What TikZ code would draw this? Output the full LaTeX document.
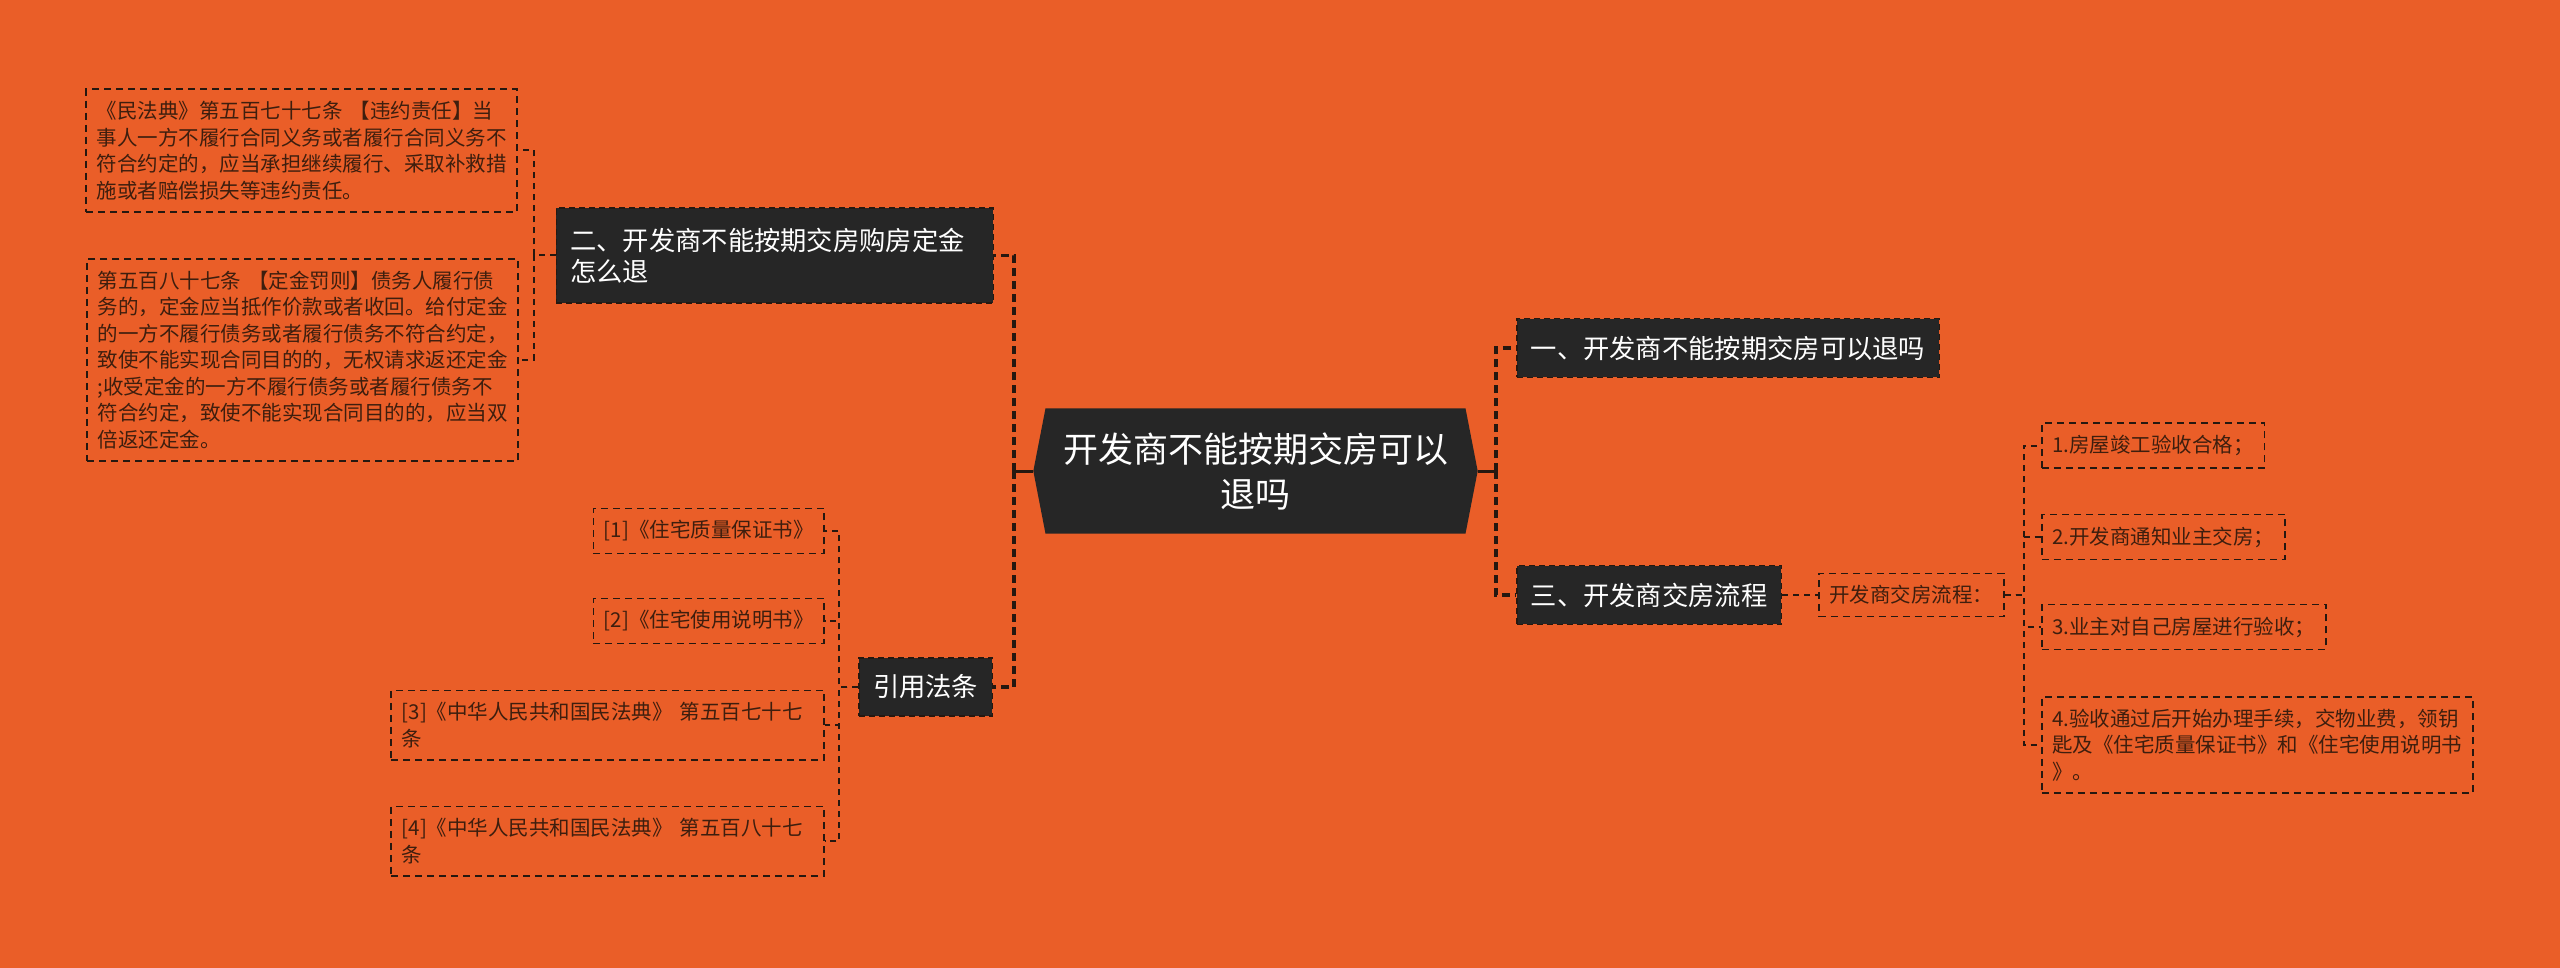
\documentclass[tikz,border=0pt]{standalone}
\usepackage{fontspec}
\setmainfont{Noto Sans CJK SC}
\usepackage{tikz}
\usetikzlibrary{shapes.symbols}

\definecolor{bgorange}{RGB}{234,94,40}
\definecolor{nodedark}{RGB}{38,38,38}
\definecolor{linedark}{RGB}{38,24,16}
\definecolor{leaftext}{RGB}{62,30,14}

\begin{document}
\begin{tikzpicture}[x=1pt, y=-1pt,
  rootbox/.style={signal, signal to=west and east, signal pointer angle=158, fill=nodedark, text=white, align=center, text width=386pt, inner xsep=17pt, inner ysep=24pt, font={\fontsize{35}{45}\selectfont}},
  topic/.style={fill=nodedark, draw=linedark, line width=1.5pt, dash pattern=on 6pt off 4pt, text=white, align=left, inner xsep=14pt, inner ysep=17pt, font={\fontsize{26.3}{31}\selectfont}},
  leaf/.style={draw=linedark, line width=1.6pt, dash pattern=on 7pt off 5pt, text=leaftext, align=left, inner xsep=10.5pt, inner ysep=12pt, font={\fontsize{20.5}{26.5}\selectfont}},
  stub/.style={draw=linedark, line width=3pt},
  link/.style={draw=linedark, line width=3.5pt, dash pattern=on 8pt off 5pt},
  leaflink/.style={draw=linedark, line width=2pt, dash pattern=on 6pt off 5pt}
]
\fill[bgorange] (0,0) rectangle (2560,968);

% centre and main branches
\node[rootbox] (root) at (1255.5,471) {开发商不能按期交房可以\\退吗};
\node[topic, anchor=west] (t1) at (1516,348) {一、开发商不能按期交房可以退吗};
\node[topic, anchor=east, text width=409pt, inner ysep=20pt] (t2) at (994,255.5) {二、开发商不能按期交房购房定金\\怎么退};
\node[topic, anchor=west] (t3) at (1516,595) {三、开发商交房流程};
\node[topic, anchor=east] (cite) at (993,687) {引用法条};

% left leaves
\node[leaf, anchor=east, text width=410pt] (civil) at (518,150.5) {《民法典》第五百七十七条 【违约责任】当\\事人一方不履行合同义务或者履行合同义务不\\符合约定的，应当承担继续履行、采取补救措\\施或者赔偿损失等违约责任。};
\node[leaf, anchor=east, text width=410pt] (deposit) at (519,360) {第五百八十七条 【定金罚则】债务人履行债\\务的，定金应当抵作价款或者收回。给付定金\\的一方不履行债务或者履行债务不符合约定，\\致使不能实现合同目的的，无权请求返还定金\\;收受定金的一方不履行债务或者履行债务不\\符合约定，致使不能实现合同目的的，应当双\\倍返还定金。};
\node[leaf, anchor=east] (ref1) at (825,531) {[1]《住宅质量保证书》};
\node[leaf, anchor=east] (ref2) at (825,621) {[2]《住宅使用说明书》};
\node[leaf, anchor=east, text width=412pt] (ref3) at (825,725) {[3]《中华人民共和国民法典》 第五百七十七\\条};
\node[leaf, anchor=east, text width=412pt] (ref4) at (825,841) {[4]《中华人民共和国民法典》 第五百八十七\\条};

% right leaves
\node[leaf, anchor=west] (flow) at (1818,595) {开发商交房流程：};
\node[leaf, anchor=west] (step1) at (2041,445.5) {1.房屋竣工验收合格；};
\node[leaf, anchor=west] (step2) at (2041,537) {2.开发商通知业主交房；};
\node[leaf, anchor=west] (step3) at (2041,627) {3.业主对自己房屋进行验收；};
\node[leaf, anchor=west, text width=410pt] (step4) at (2041,745) {4.验收通过后开始办理手续，交物业费，领钥\\匙及《住宅质量保证书》和《住宅使用说明书\\》。};

% connectors
\draw[stub] (root.west) -- ++(-19,0) coordinate (lfork);
\draw[stub] (root.east) -- ++(18,0) coordinate (rfork);
\draw[link] (lfork) |- (t2.east);
\draw[link] (lfork) |- (cite.east);
\draw[link] (rfork) |- (t1.west);
\draw[link] (rfork) |- (t3.west);
\draw[leaflink] (t2.west) -- ++(-22,0) |- (civil.east);
\draw[leaflink] (t2.west) -- ++(-22,0) |- (deposit.east);
\draw[leaflink] (cite.west) -- ++(-19,0) |- (ref1.east);
\draw[leaflink] (cite.west) -- ++(-19,0) |- (ref2.east);
\draw[leaflink] (cite.west) -- ++(-19,0) |- (ref3.east);
\draw[leaflink] (cite.west) -- ++(-19,0) |- (ref4.east);
\draw[leaflink] (t3.east) -- (flow.west);
\draw[leaflink] (flow.east) -- ++(19,0) |- (step1.west);
\draw[leaflink] (flow.east) -- ++(19,0) |- (step2.west);
\draw[leaflink] (flow.east) -- ++(19,0) |- (step3.west);
\draw[leaflink] (flow.east) -- ++(19,0) |- (step4.west);
\end{tikzpicture}
\end{document}
